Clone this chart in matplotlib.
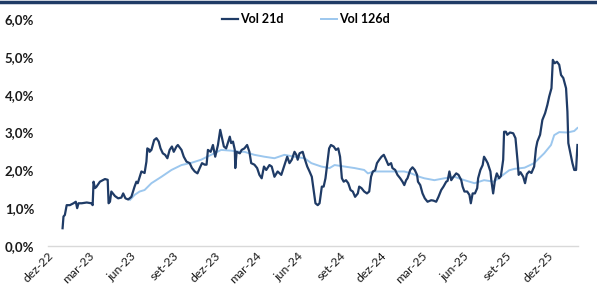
import matplotlib
matplotlib.use("Agg")
import matplotlib.pyplot as plt
import matplotlib.transforms as mtransforms
from matplotlib.lines import Line2D
from matplotlib.ticker import FuncFormatter
import pandas as pd

# ---------------- data ----------------
dates21 = [
    "2023-01-02", "2023-01-04", "2023-01-07", "2023-01-11", "2023-01-18", "2023-01-26", "2023-01-31",
    "2023-02-03", "2023-02-06", "2023-02-13", "2023-02-24", "2023-03-06", "2023-03-09", "2023-03-11",
    "2023-03-14", "2023-03-17", "2023-03-25", "2023-04-05", "2023-04-11", "2023-04-13", "2023-04-16",
    "2023-04-19", "2023-04-27", "2023-05-04", "2023-05-11", "2023-05-15", "2023-05-20", "2023-05-26",
    "2023-06-02", "2023-06-09", "2023-06-13", "2023-06-16", "2023-06-24", "2023-07-01", "2023-07-05",
    "2023-07-07", "2023-07-11", "2023-07-12", "2023-07-16", "2023-07-22", "2023-07-27", "2023-08-01",
    "2023-08-05", "2023-08-10", "2023-08-15", "2023-08-20", "2023-08-25", "2023-08-30", "2023-09-03",
    "2023-09-09", "2023-09-12", "2023-09-20", "2023-09-25", "2023-10-01", "2023-10-08", "2023-10-13",
    "2023-10-19", "2023-10-25", "2023-10-30", "2023-11-04", "2023-11-10", "2023-11-14", "2023-11-17",
    "2023-11-23", "2023-11-28", "2023-12-03", "2023-12-09", "2023-12-14", "2023-12-18", "2023-12-22",
    "2023-12-27", "2024-01-04", "2024-01-07", "2024-01-11", "2024-01-15", "2024-01-16", "2024-01-19",
    "2024-01-26", "2024-01-30", "2024-02-05", "2024-02-11", "2024-02-16", "2024-02-20", "2024-02-27",
    "2024-03-04", "2024-03-09", "2024-03-14", "2024-03-19", "2024-03-24", "2024-03-31", "2024-04-05",
    "2024-04-11", "2024-04-18", "2024-04-26", "2024-05-03", "2024-05-09", "2024-05-14", "2024-05-19",
    "2024-05-25", "2024-05-29", "2024-06-01", "2024-06-05", "2024-06-12", "2024-06-16", "2024-06-22",
    "2024-06-27", "2024-07-02", "2024-07-06", "2024-07-10", "2024-07-15", "2024-07-19", "2024-07-24",
    "2024-07-28", "2024-08-01", "2024-08-06", "2024-08-09", "2024-08-13", "2024-08-19", "2024-08-24",
    "2024-08-29", "2024-09-02", "2024-09-06", "2024-09-10", "2024-09-15", "2024-09-20", "2024-09-25",
    "2024-09-30", "2024-10-05", "2024-10-11", "2024-10-14", "2024-10-19", "2024-10-25", "2024-10-31",
    "2024-11-05", "2024-11-09", "2024-11-13", "2024-11-18", "2024-11-22", "2024-11-27", "2024-12-02",
    "2024-12-07", "2024-12-12", "2024-12-17", "2024-12-23", "2024-12-26", "2025-01-01", "2025-01-06",
    "2025-01-12", "2025-01-17", "2025-01-21", "2025-01-25", "2025-01-28", "2025-02-03", "2025-02-08",
    "2025-02-13", "2025-02-18", "2025-02-20", "2025-02-25", "2025-03-02", "2025-03-07", "2025-03-13",
    "2025-03-21", "2025-03-26", "2025-04-01", "2025-04-06", "2025-04-12", "2025-04-17", "2025-04-23",
    "2025-04-26", "2025-04-30", "2025-05-04", "2025-05-09", "2025-05-15", "2025-05-20", "2025-05-26",
    "2025-05-29", "2025-06-02", "2025-06-08", "2025-06-13", "2025-06-16", "2025-06-20", "2025-06-25",
    "2025-06-30", "2025-07-02", "2025-07-07", "2025-07-12", "2025-07-15", "2025-07-19", "2025-07-23",
    "2025-07-29", "2025-07-31", "2025-08-04", "2025-08-08", "2025-08-12", "2025-08-17", "2025-08-21",
    "2025-08-26", "2025-08-28", "2025-09-01", "2025-09-04", "2025-09-10", "2025-09-17", "2025-09-22",
    "2025-09-27", "2025-09-29", "2025-10-03", "2025-10-09", "2025-10-13", "2025-10-17", "2025-10-22",
    "2025-10-27", "2025-11-02", "2025-11-06", "2025-11-09", "2025-11-15", "2025-11-20", "2025-11-26",
    "2025-12-01", "2025-12-05", "2025-12-10", "2025-12-13", "2025-12-17", "2025-12-22", "2025-12-27",
    "2025-12-31", "2026-01-05", "2026-01-11", "2026-01-14", "2026-01-16", "2026-01-20", "2026-01-25",
    "2026-01-29", "2026-02-02", "2026-02-05",
]
vol21 = [
    0.47, 0.78, 0.82, 1.08, 1.08, 1.13, 1.17,
    1.00, 1.13, 1.13, 1.15, 1.13, 1.08, 1.70,
    1.53, 1.56, 1.70, 1.77, 1.75, 1.13, 1.17,
    1.44, 1.32, 1.26, 1.28, 1.39, 1.26, 1.23,
    1.30, 1.57, 1.70, 1.66, 1.97, 1.93, 2.23,
    2.58, 2.55, 2.49, 2.54, 2.80, 2.85, 2.76,
    2.58, 2.45, 2.41, 2.32, 2.54, 2.63, 2.49,
    2.63, 2.67, 2.54, 2.36, 2.23, 2.19, 2.06,
    1.97, 1.92, 2.06, 2.19, 2.15, 2.15, 2.54,
    2.49, 2.67, 2.36, 2.67, 3.07, 2.85, 2.63,
    2.58, 2.89, 2.72, 2.76, 2.54, 2.06, 2.49,
    2.45, 2.54, 2.58, 2.67, 2.49, 2.19, 2.15,
    2.06, 1.88, 1.79, 2.10, 2.01, 2.14, 2.10,
    1.83, 1.97, 1.88, 2.14, 2.36, 2.19, 2.28,
    2.49, 2.41, 2.28, 2.45, 2.49, 2.32, 2.10,
    1.97, 1.83, 1.48, 1.13, 1.08, 1.13, 1.57,
    1.57, 1.79, 2.28, 2.58, 2.67, 2.63, 2.54,
    2.58, 2.36, 1.79, 1.70, 1.74, 1.66, 1.48,
    1.44, 1.30, 1.39, 1.57, 1.53, 1.44, 1.39,
    1.44, 1.83, 1.97, 2.00, 2.19, 2.28, 2.36,
    2.41, 2.28, 2.14, 2.19, 2.06, 2.01, 1.88,
    1.79, 1.70, 1.61, 1.74, 1.79, 2.01, 2.08,
    2.01, 1.88, 1.70, 1.61, 1.39, 1.26, 1.17,
    1.21, 1.20, 1.17, 1.30, 1.48, 1.57, 1.70,
    1.72, 1.97, 1.74, 1.83, 1.92, 1.88, 1.74,
    1.57, 1.44, 1.44, 1.35, 1.13, 1.39, 1.39,
    1.53, 1.79, 2.01, 2.14, 2.36, 2.28, 2.19,
    1.97, 1.74, 1.39, 1.74, 1.92, 1.79, 1.85,
    2.28, 3.02, 3.02, 2.94, 3.00, 2.98, 2.85,
    2.19, 1.88, 1.95, 1.83, 1.66, 1.90, 1.97,
    1.93, 2.10, 2.58, 2.76, 2.94, 3.33, 3.51,
    3.73, 3.95, 4.17, 4.92, 4.83, 4.87, 4.79,
    4.52, 4.44, 4.17, 3.55, 2.72, 2.49, 2.19,
    2.01, 2.01, 2.67,
]

dates126 = [
    "2023-05-30", "2023-06-09", "2023-06-20", "2023-07-01", "2023-07-16", "2023-08-07", "2023-08-29",
    "2023-09-20", "2023-10-12", "2023-11-02", "2023-11-24", "2023-12-16", "2024-01-07", "2024-01-26",
    "2024-02-05", "2024-02-27", "2024-03-20", "2024-04-11", "2024-05-03", "2024-05-25", "2024-06-16",
    "2024-07-01", "2024-07-23", "2024-08-10", "2024-08-21", "2024-09-12", "2024-10-04", "2024-10-25",
    "2024-11-02", "2024-11-16", "2024-12-08", "2024-12-30", "2025-01-21", "2025-02-05", "2025-02-23",
    "2025-03-06", "2025-03-28", "2025-04-19", "2025-05-11", "2025-06-02", "2025-06-24", "2025-07-15",
    "2025-08-06", "2025-08-28", "2025-09-08", "2025-09-20", "2025-10-12", "2025-11-02", "2025-11-24",
    "2025-12-09", "2025-12-16", "2025-12-27", "2026-01-14", "2026-01-29", "2026-02-05",
]
vol126 = [
    1.22, 1.35, 1.44, 1.48, 1.66, 1.83, 2.01,
    2.14, 2.20, 2.28, 2.41, 2.54, 2.52, 2.49,
    2.49, 2.41, 2.36, 2.32, 2.41, 2.36, 2.32,
    2.19, 2.10, 2.06, 2.14, 2.10, 2.06, 2.01,
    1.92, 1.97, 1.97, 1.97, 1.97, 1.92, 1.83,
    1.79, 1.74, 1.79, 1.83, 1.74, 1.66, 1.74,
    1.70, 1.90, 2.00, 2.04, 2.07, 2.19, 2.45,
    2.67, 2.93, 3.01, 3.00, 3.04, 3.12,
]

tick_dates = ["2022-12-01", "2023-03-01", "2023-06-01", "2023-09-01", "2023-12-01", "2024-03-01",
              "2024-06-01", "2024-09-01", "2024-12-01", "2025-03-01", "2025-06-01", "2025-09-01",
              "2025-12-01"]
tick_labels = ["dez-22", "mar-23", "jun-23", "set-23", "dez-23", "mar-24", "jun-24", "set-24",
               "dez-24", "mar-25", "jun-25", "set-25", "dez-25"]
x_start, x_end = "2022-12-01", "2026-02-06"

# ---------------- plot ----------------
plt.rcParams['font.family'] = ['Lato', 'DejaVu Sans']
DARK = "#1F3B66"
LIGHT = "#9CC7EE"

fig = plt.figure(figsize=(5.97, 2.91), dpi=100)
ax = fig.add_axes([0.0804, 0.1546, 0.8876, 0.7801])

ax.plot(pd.to_datetime(dates21), vol21, color=DARK, lw=1.6, label="Vol 21d", zorder=3)
ax.plot(pd.to_datetime(dates126), vol126, color=LIGHT, lw=1.4, label="Vol 126d", zorder=2)

ax.set_ylim(0, 6)
ax.set_yticks([0, 1, 2, 3, 4, 5, 6])
ax.yaxis.set_major_formatter(FuncFormatter(lambda v, p: f"{v:.1f}%".replace(".", ",")))
ax.set_xlim(pd.Timestamp(x_start), pd.Timestamp(x_end))
ax.set_xticks(pd.to_datetime(tick_dates))
ax.set_xticklabels(tick_labels)

for s in ["top", "right", "left"]:
    ax.spines[s].set_visible(False)
ax.spines["bottom"].set_color("#D9D9D9")
ax.spines["bottom"].set_linewidth(1.0)
ax.tick_params(axis="both", length=0)
ax.tick_params(axis="y", pad=10)

for lab in ax.get_yticklabels():
    lab.set_fontweight("bold")
    lab.set_fontsize(9.5)
    lab.set_color("#1a1a1a")

offset = mtransforms.ScaledTranslation(7 / 100, 0, fig.dpi_scale_trans)
for lab in ax.get_xticklabels():
    lab.set_rotation(45)
    lab.set_ha("right")
    lab.set_va("top")
    lab.set_rotation_mode("anchor")
    lab.set_fontsize(8.8)
    lab.set_color("#1a1a1a")
    lab.set_transform(lab.get_transform() + offset)
ax.tick_params(axis="x", pad=3)

fig.legend(loc="center", bbox_to_anchor=(0.512, 0.935), ncol=2, frameon=False,
           handlelength=1.3, handletextpad=0.15, columnspacing=3.0,
           prop={"weight": "bold", "size": 9})

fig.add_artist(Line2D([0, 1], [0.994, 0.994], transform=fig.transFigure, color="#1F3B66", lw=2.5))

fig.savefig("out.png", dpi=100)
